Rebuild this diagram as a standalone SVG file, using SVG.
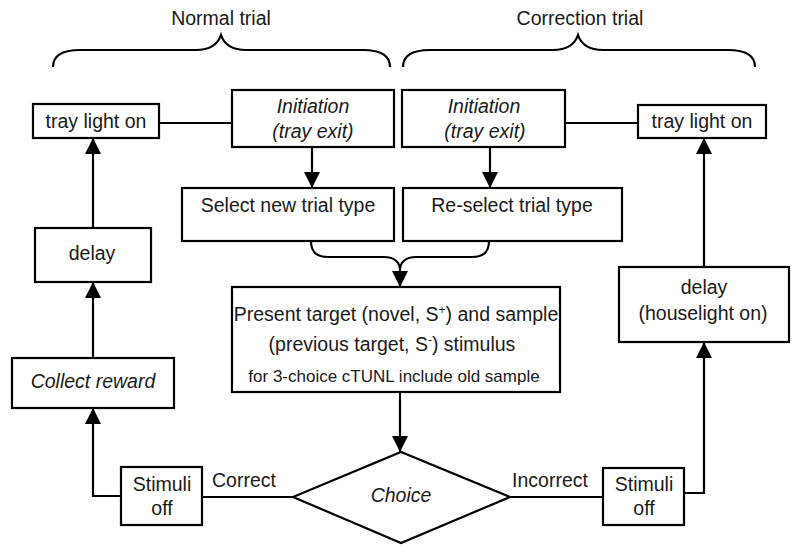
<svg xmlns="http://www.w3.org/2000/svg" width="800" height="556" viewBox="0 0 800 556">
<style>
.box{fill:#fff;stroke:#000;stroke-width:2.2}
.ln{fill:none;stroke:#000;stroke-width:2.2}
text{font-family:"Liberation Sans",Arial,sans-serif;font-size:19.5px;fill:#1a1a1a;text-anchor:middle}
.it{font-style:italic}
.sm{font-size:17px}
.sup{font-size:12px}
</style>
<defs>
<marker id="ah" markerUnits="userSpaceOnUse" markerWidth="17" markerHeight="16" refX="16" refY="8" orient="auto" viewBox="0 0 17 16">
<path d="M0,0 L16,8 L0,16 z" fill="#000"/>
</marker>
</defs>
<rect width="800" height="556" fill="#fff"/>

<g id="braces">
<path class="ln" d="M53,67 C53,56 62,50 80,50 L196,50 C211,50 218,44 221,35 C224,44 231,50 246,50 L363,50 C381,50 390,56 390,67"/>
<path class="ln" d="M403,67 C403,56 412,50 430,50 L553,50 C568,50 575,44 578,35 C581,44 588,50 603,50 L728,50 C746,50 755,56 755,67"/>
<text x="221" y="25">Normal trial</text>
<text x="580" y="25">Correction trial</text>
</g>

<g id="connectors">
<line class="ln" x1="159" y1="123" x2="232" y2="123"/>
<line class="ln" x1="565" y1="123" x2="638" y2="123"/>
<line class="ln" x1="312" y1="147" x2="312" y2="188" marker-end="url(#ah)"/>
<line class="ln" x1="490" y1="147" x2="490" y2="188" marker-end="url(#ah)"/>
<path class="ln" d="M311,241 C311,252 316,257 328,257 L384,257 C394,257 400,262 400,270"/>
<path class="ln" d="M489,241 C489,252 484,257 472,257 L416,257 C406,257 400,262 400,270 L400,287" marker-end="url(#ah)"/>
<line class="ln" x1="400" y1="392" x2="400" y2="452" marker-end="url(#ah)"/>
<line class="ln" x1="293" y1="497" x2="202" y2="497"/>
<path class="ln" d="M121,496 L93,496 L93,408" marker-end="url(#ah)"/>
<line class="ln" x1="93" y1="358" x2="93" y2="282" marker-end="url(#ah)"/>
<line class="ln" x1="93" y1="228" x2="93" y2="138" marker-end="url(#ah)"/>
<line class="ln" x1="510" y1="497" x2="603" y2="497"/>
<path class="ln" d="M684,493 L704,493 L704,342" marker-end="url(#ah)"/>
<line class="ln" x1="704" y1="267" x2="704" y2="138" marker-end="url(#ah)"/>
<text x="244" y="487">Correct</text>
<text x="550" y="487">Incorrect</text>
</g>

<g id="trayL"><rect class="box" x="33" y="104" width="126" height="34"/><text x="96" y="128">tray light on</text></g>
<g id="initL"><rect class="box" x="232" y="90" width="162" height="57"/><text class="it" x="313" y="113">Initiation</text><text class="it" x="313" y="138">(tray exit)</text></g>
<g id="selL"><rect class="box" x="182" y="188" width="212" height="53"/><text x="288" y="212">Select new trial type</text></g>
<g id="initR"><rect class="box" x="402" y="90" width="163" height="57"/><text class="it" x="484" y="113">Initiation</text><text class="it" x="485" y="138">(tray exit)</text></g>
<g id="selR"><rect class="box" x="403" y="188" width="219" height="53"/><text x="512" y="212">Re-select trial type</text></g>
<g id="trayR"><rect class="box" x="638" y="105" width="128" height="33"/><text x="702" y="128">tray light on</text></g>
<g id="delayL"><rect class="box" x="35" y="228" width="116" height="54"/><text x="92" y="260">delay</text></g>
<g id="collect"><rect class="box" x="12" y="358" width="162" height="50"/><text class="it" x="93" y="388">Collect reward</text></g>
<g id="present"><rect class="box" x="232" y="287" width="328" height="105"/>
<text x="396" y="321">Present target (novel, S<tspan class="sup" dy="-7">+</tspan><tspan dy="7">) and sample</tspan></text>
<text x="392" y="351">(previous target, S<tspan class="sup" dy="-7">-</tspan><tspan dy="7">) stimulus</tspan></text>
<text class="sm" x="394" y="382">for 3-choice cTUNL include old sample</text>
</g>
<g id="choice"><polygon class="box" points="293,497 401,452 510,497 401,543"/><text class="it" x="401" y="502">Choice</text></g>
<g id="stimL"><rect class="box" x="121" y="467" width="81" height="58"/><text x="162" y="491">Stimuli</text><text x="162" y="515">off</text></g>
<g id="stimR"><rect class="box" x="603" y="468" width="81" height="57"/><text x="644" y="491">Stimuli</text><text x="644" y="515">off</text></g>
<g id="delayR"><rect class="box" x="619" y="267" width="170" height="75"/><text x="704" y="294">delay</text><text x="703" y="320">(houselight on)</text></g>
</svg>
